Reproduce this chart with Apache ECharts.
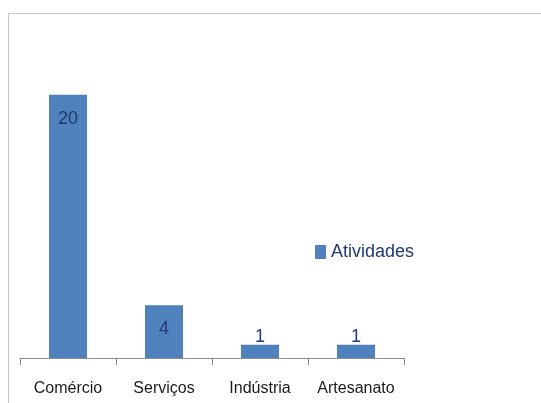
<!DOCTYPE html>
<html>
<head>
<meta charset="utf-8">
<script src="https://cdn.jsdelivr.net/npm/echarts@6/dist/echarts.min.js"></script>
<style>
  html, body { margin: 0; padding: 0; background: #fff; }
  #chart { width: 541px; height: 403px; }
</style>
</head>
<body>
<div id="chart"></div>
<script>
var categorias = ['Comércio', 'Serviços', 'Indústria', 'Artesanato'];
var atividades = [20, 4, 1, 1];

var fonte = '"Liberation Sans", Arial, sans-serif';

// rótulos: dentro da barra quando cabe, senão logo acima
var dados = atividades.map(function (v) {
    return {
        value: v,
        label: v >= 2 ? { position: 'insideTop', distance: 15 } : { position: 'top', distance: -1 }
    };
});

var option = {
    animation: false,
    graphic: [
        {
            type: 'polyline',
            shape: { points: [[8.5, 403], [8.5, 13.5], [541, 13.5]] },
            style: { stroke: '#c6c6c6', lineWidth: 1, fill: null }
        }
    ],
    legend: {
        data: ['Atividades'],
        left: 310,
        top: 238,
        icon: 'rect',
        itemWidth: 11,
        itemHeight: 14,
        textStyle: { fontFamily: fonte, fontSize: 18, color: '#1f3a72' }
    },
    grid: { left: 20, right: 137, top: 29, bottom: 45 },
    xAxis: {
        type: 'category',
        data: categorias,
        axisLine: { lineStyle: { color: '#8c8c8c' } },
        axisTick: { show: true, length: 7, lineStyle: { color: '#8c8c8c' } },
        axisLabel: { interval: 0, fontFamily: fonte, fontSize: 16, color: '#1a1a1a', margin: 23 }
    },
    yAxis: {
        type: 'value',
        min: 0,
        max: 25,
        show: false
    },
    series: [
        {
            name: 'Atividades',
            type: 'bar',
            barWidth: 38,
            data: dados,
            itemStyle: { color: '#4f81bd' },
            label: {
                show: true,
                fontFamily: fonte,
                fontSize: 18,
                color: '#1f3a72'
            }
        }
    ]
};

var myChart = echarts.init(document.getElementById('chart'));
myChart.setOption(option);
</script>
</body>
</html>
